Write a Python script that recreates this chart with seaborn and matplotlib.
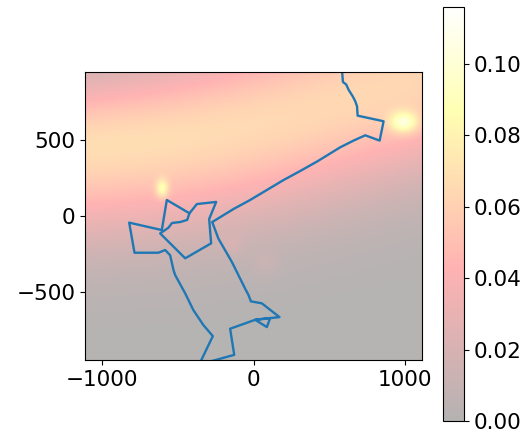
import numpy as np
import matplotlib
matplotlib.use("Agg")
import matplotlib.pyplot as plt
import seaborn as sns

# Trajectory vertices in map coordinates
path_x = [583, 589, 611, 626, 653, 670, 682, 686, 857, 831, 736, 659, 572,
          418, 308, 198, 88, -22, -132, -272,
          -231, -142, -55, -33, -17, 33, 55, 171, 11, 88, 110, 11, -154,
          -127, -358, -268, -330, -396, -450, -516, -527, -549, -582,
          -626, -784, -819, -604, -571, -422, -373, -246, -292, -279,
          -450, -615, -562, -536, -483, -437, -422]
path_y = [967, 887, 870, 836, 793, 760, 726, 664, 627, 499, 534, 499, 455,
          360, 298, 238, 172, 106, 46, -40,
          -150, -305, -481, -523, -565, -574, -578, -669, -687, -735, -675, -687, -746,
          -919, -983, -795, -722, -623, -512, -391, -358, -260, -225,
          -243, -243, -44, -93, 106, 18, 79, 93, -20, -181,
          -280, -115, -79, -46, -40, -26, 18]

# Intensity sources: centre, peak height, spread along x and
# spread above / below the centre along y
src_x = [-1900, -1300, -700, -100, 500, 1100, 1700, 987, -604, -142, 77]
src_y = [430, 455, 485, 570, 740, 900, 1060, 622, 181, -194, -325]
src_amp = [0.0325, 0.0325, 0.0325, 0.0325, 0.0325, 0.0325, 0.0325,
           0.050, 0.040, 0.007, 0.006]
src_sx = [500, 500, 500, 500, 500, 500, 500, 65, 30, 50, 60]
src_sy_up = [290, 300, 330, 380, 420, 430, 430, 50, 45, 50, 60]
src_sy_down = [415, 415, 415, 415, 410, 405, 405, 50, 45, 50, 60]

x_lim = (-1110, 1110)
y_lim = (-953, 953)
c_lim = (0.0, 0.116)

gx = np.linspace(x_lim[0], x_lim[1], 444)
gy = np.linspace(y_lim[0], y_lim[1], 382)
GX, GY = np.meshgrid(gx, gy)
field = np.zeros_like(GX, dtype=float)
for cx, cy, a, sx, su, sd in zip(src_x, src_y, src_amp, src_sx,
                                 src_sy_up, src_sy_down):
    sy = np.where(GY > cy, su, sd)
    field += a * np.exp(-0.5 * ((GX - cx) / sx) ** 2 - 0.5 * ((GY - cy) / sy) ** 2)

plt.rcParams["font.size"] = 15.5
fig = plt.figure(figsize=(5.28, 4.37), dpi=100)
ax = fig.add_axes([85 / 528, 77 / 437, 337 / 528, 288 / 437])
cax = fig.add_axes([443 / 528, 16 / 437, 21 / 528, 414 / 437])

im = ax.imshow(field, cmap="hot", alpha=0.3, origin="lower",
               extent=[x_lim[0], x_lim[1], y_lim[0], y_lim[1]],
               vmin=c_lim[0], vmax=c_lim[1], interpolation="bilinear")
sns.lineplot(x=path_x, y=path_y, sort=False, estimator=None, ax=ax,
             color="#1f77b4", linewidth=1.7)
ax.set_xlim(*x_lim)
ax.set_ylim(*y_lim)
ax.set_aspect("auto")
ax.set_xticks([-1000, 0, 1000])
ax.set_yticks([-500, 0, 500])

cb = fig.colorbar(im, cax=cax)
cb.set_ticks([0.0, 0.02, 0.04, 0.06, 0.08, 0.10])

fig.savefig("out.png", dpi=100)
